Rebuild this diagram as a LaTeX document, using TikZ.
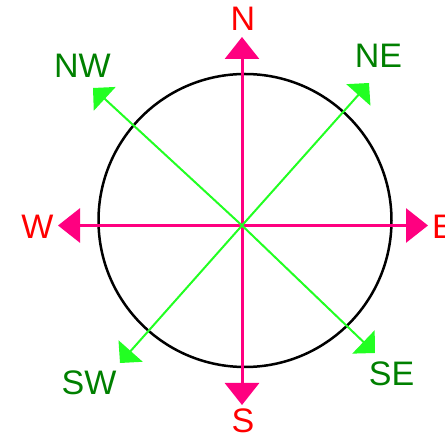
\documentclass[tikz,border=0pt]{standalone}
\usepackage{fontspec}
\setmainfont{Liberation Sans}
\usetikzlibrary{arrows.meta}
\definecolor{pinkline}{HTML}{FF0080}
\definecolor{greenline}{HTML}{22FF22}
\definecolor{cardred}{HTML}{FF0000}
\definecolor{diaggreen}{HTML}{008000}
\tikzset{
  cardarrow/.style={draw=pinkline, line width=3pt, -{Triangle[length=22pt,width=34pt,fill=pinkline]}},
  diagarrow/.style={draw=greenline, line width=2pt, -{Triangle[length=16pt,width=32pt,fill=greenline]}},
  cardlabel/.style={text=cardred, inner sep=0pt, font=\fontsize{34}{37}\selectfont},
  diaglabel/.style={text=diaggreen, inner sep=0pt, font=\fontsize{34}{37}\selectfont},
  ring/.style={draw=black, line width=2.5pt}
}
\begin{document}
\begin{tikzpicture}[x=1pt,y=-1pt]
\useasboundingbox (0,0) rectangle (445,438);
% circle
\draw[ring] (245,220.5) circle[radius=146.5];
% points
\coordinate (O) at (242,225.5);
\coordinate (n) at (242,37);
\coordinate (s) at (242,405);
\coordinate (w) at (58,225.5);
\coordinate (e) at (428,225.5);
\coordinate (nw) at (93,88);
\coordinate (ne) at (369,83);
\coordinate (sw) at (120,363);
\coordinate (se) at (375,353);
% cardinal arrows
\draw[cardarrow] (O) -- (n);
\draw[cardarrow] (O) -- (s);
\draw[cardarrow] (O) -- (w);
\draw[cardarrow] (O) -- (e);
% diagonal arrows
\draw[diagarrow] (O) -- (nw);
\draw[diagarrow] (O) -- (ne);
\draw[diagarrow] (O) -- (sw);
\draw[diagarrow] (O) -- (se);
% labels
\node[cardlabel] (lN) at (243,18.5) {N};
\node[cardlabel] (lS) at (243,421) {S};
\node[cardlabel] (lW) at (37.5,226.5) {W};
\node[cardlabel, anchor=west] (lE) at (432,226.5) {E};
\node[diaglabel] (lNW) at (82.5,65.5) {NW};
\node[diaglabel] (lNE) at (378.5,55.5) {NE};
\node[diaglabel] (lSW) at (89,382.5) {SW};
\node[diaglabel] (lSE) at (391.5,373.5) {SE};
\end{tikzpicture}
\end{document}
